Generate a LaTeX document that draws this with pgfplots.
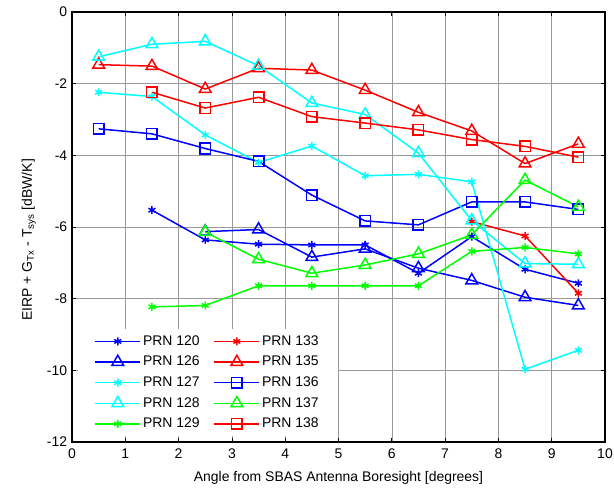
\documentclass[border=0pt]{standalone}
\usepackage{pgfplots}
\pgfplotsset{compat=1.18}
\usepackage{fontspec}
\setmainfont{Liberation Sans}

\definecolor{mblue}{RGB}{0,0,255}
\definecolor{mred}{RGB}{255,0,0}
\definecolor{mcyan}{RGB}{0,255,255}
\definecolor{mgreen}{RGB}{0,255,0}

\begin{document}
\fontsize{14}{16}\selectfont
\begin{tikzpicture}
\begin{axis}[
  scale only axis,
  width=533bp, height=430bp,
  xmin=0, xmax=10, ymin=-12, ymax=0,
  xtick={0,1,...,10}, ytick={-12,-10,...,0},
  tick align=inside,
  major tick length=4bp,
  grid=major,
  major grid style={gray!80, line width=0.6pt},
  axis line style={line width=1.1pt},
  tick style={black, line width=0.8pt},
  /pgf/number format/assume math mode=true,
  ticklabel style={font=\fontsize{14}{16}\selectfont},
  xticklabel style={yshift=-2bp},
  label style={font=\fontsize{14}{16}\selectfont},
  xlabel={Angle from SBAS Antenna Boresight [degrees]},
  ylabel={EIRP + G\textsubscript{Tx} - T\textsubscript{sys} [dBW/K]},
  xlabel style={at={(axis description cs:0.5,-0.093)}, anchor=base},
  ylabel style={at={(axis description cs:-0.081,0.47)}, anchor=center},
  every axis plot/.append style={line width=1.5pt},
  legend columns=2,
  legend style={at={(0.01,0.014)}, anchor=south west, draw=none, fill=white,
    inner xsep=17bp, inner ysep=4bp,
    font=\fontsize{14}{16}\selectfont, row sep=4.8bp,
    /tikz/every even column/.append style={column sep=12bp}},
  legend cell align=left,
  legend image code/.code={
    \draw[mark repeat=2,mark phase=2] plot coordinates {(0bp,0bp) (22.5bp,0bp) (45bp,0bp)};},
]
% PRN 120
\addplot[mblue, mark=asterisk, mark size=4pt] coordinates {
(1.5,-5.53) (2.5,-6.36) (3.5,-6.48) (4.5,-6.5) (5.5,-6.5) (6.5,-7.29) (7.5,-6.27) (8.5,-7.18) (9.5,-7.57)};
% PRN 133
\addplot[mred, mark=asterisk, mark size=4pt] coordinates {
(7.5,-5.85) (8.5,-6.25) (9.5,-7.85)};
% PRN 126
\addplot[mblue, mark=triangle, mark size=6.8pt] coordinates {
(2.5,-6.13) (3.5,-6.07) (4.5,-6.84) (5.5,-6.61) (6.5,-7.15) (7.5,-7.49) (8.5,-7.96) (9.5,-8.19)};
% PRN 135
\addplot[mred, mark=triangle, mark size=6.8pt] coordinates {
(0.5,-1.47) (1.5,-1.51) (2.5,-2.15) (3.5,-1.57) (4.5,-1.62) (5.5,-2.18) (6.5,-2.8) (7.5,-3.32) (8.5,-4.23) (9.5,-3.68)};
% PRN 127
\addplot[mcyan, mark=asterisk, mark size=4pt] coordinates {
(0.5,-2.24) (1.5,-2.36) (2.5,-3.43) (3.5,-4.2) (4.5,-3.74) (5.5,-4.57) (6.5,-4.53) (7.5,-4.74) (8.5,-9.97) (9.5,-9.44)};
% PRN 136
\addplot[mblue, mark=square, mark size=5.3pt] coordinates {
(0.5,-3.26) (1.5,-3.4) (2.5,-3.81) (3.5,-4.17) (4.5,-5.11) (5.5,-5.83) (6.5,-5.94) (7.5,-5.3) (8.5,-5.3) (9.5,-5.51)};
% PRN 128
\addplot[mcyan, mark=triangle, mark size=6.8pt] coordinates {
(0.5,-1.25) (1.5,-0.9) (2.5,-0.82) (3.5,-1.5) (4.5,-2.54) (5.5,-2.86) (6.5,-3.94) (7.5,-5.82) (8.5,-7.02) (9.5,-7.04)};
% PRN 137
\addplot[mgreen, mark=triangle, mark size=6.8pt] coordinates {
(2.5,-6.14) (3.5,-6.9) (4.5,-7.29) (5.5,-7.06) (6.5,-6.75) (7.5,-6.22) (8.5,-4.69) (9.5,-5.44)};
% PRN 129
\addplot[mgreen, mark=asterisk, mark size=4pt] coordinates {
(1.5,-8.23) (2.5,-8.19) (3.5,-7.64) (4.5,-7.64) (5.5,-7.64) (6.5,-7.64) (7.5,-6.68) (8.5,-6.57) (9.5,-6.75)};
% PRN 138
\addplot[mred, mark=square, mark size=5.3pt] coordinates {
(1.5,-2.24) (2.5,-2.68) (3.5,-2.38) (4.5,-2.92) (5.5,-3.1) (6.5,-3.29) (7.5,-3.56) (8.5,-3.75) (9.5,-4.05)};
\legend{PRN 120,PRN 133,PRN 126,PRN 135,PRN 127,PRN 136,PRN 128,PRN 137,PRN 129,PRN 138}
\end{axis}
\pgfresetboundingbox
\path ([shift={(-72bp,-47bp)}]current axis.south west) rectangle ([shift={(9bp,12bp)}]current axis.north east);
\end{tikzpicture}
\end{document}
